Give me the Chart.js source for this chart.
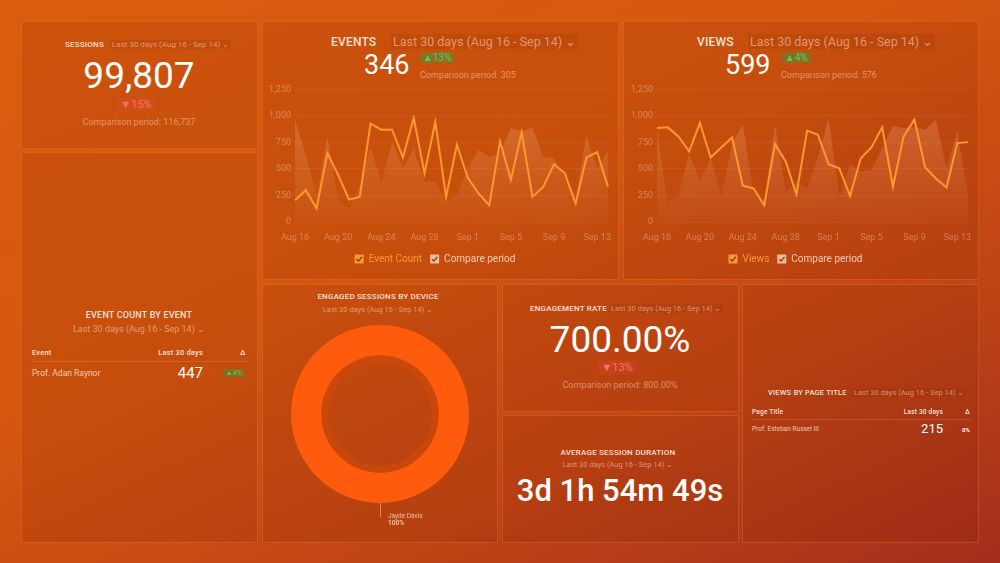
<!DOCTYPE html>
<html>
<head>
<meta charset="utf-8">
<script src="https://cdn.jsdelivr.net/npm/chart.js@4.4.1/dist/chart.umd.min.js"></script>
<style>
body{margin:0;width:1000px;height:563px;overflow:hidden;position:relative;font-family:Roboto,"Noto Sans",sans-serif;color:#fff;
background:linear-gradient(155deg,#dc5c0e 0%,#d6580f 40%,#c24614 70%,#a32e1c 100%);}
.panel{position:absolute;box-sizing:border-box;background:rgba(110,30,0,0.14);border:1px solid rgba(255,150,80,0.25);}
.t{position:absolute;white-space:nowrap;}
.c{transform:translateX(-50%);}
.r{transform:translateX(-100%);}
.ttl{font-weight:500;letter-spacing:0.2px;color:rgba(255,240,228,0.92);}
.dr{color:rgba(255,220,200,0.55);background:rgba(120,35,0,0.12);padding:0 2px;}
.cmp{color:rgba(255,220,200,0.5);}
.red{background:rgba(235,70,70,0.22);color:#ff6f6a;padding:0 3px;}
.grn{background:rgba(40,170,70,0.35);color:#3bd46c;padding:0 3px;}
.box{position:absolute;}
</style>
</head>
<body>

<div class="panel" style="left:21px;top:21px;width:237px;height:128px"></div>
<div class="panel" style="left:21px;top:152px;width:237px;height:391px"></div>
<div class="panel" style="left:262px;top:21px;width:357px;height:259px"></div>
<div class="panel" style="left:623px;top:21px;width:356px;height:259px"></div>
<div class="panel" style="left:262px;top:284px;width:236px;height:259px"></div>
<div class="panel" style="left:502px;top:284px;width:237px;height:128px"></div>
<div class="panel" style="left:502px;top:415px;width:237px;height:128px"></div>
<div class="panel" style="left:742px;top:284px;width:237px;height:259px"></div>

<!-- sessions -->
<div class="t ttl" style="left:65px;top:40px;font-size:8px">SESSIONS</div>
<div class="t dr" style="left:110px;top:40px;font-size:8px">Last 30 days (Aug 16 - Sep 14) ⌄</div>
<div class="t c" style="left:139px;top:54px;font-size:37px">99,807</div>
<div class="t c red" style="left:136px;top:98px;font-size:11px">▼15%</div>
<div class="t c cmp" style="left:139px;top:117px;font-size:9px">Comparison period: 116,737</div>

<!-- events -->
<div class="t ttl" style="left:331px;top:35px;font-size:12px">EVENTS</div>
<div class="t dr" style="left:391px;top:34px;font-size:12.5px">Last 30 days (Aug 16 - Sep 14) ⌄</div>
<div class="t" style="left:364px;top:49px;font-size:27px">346</div>
<div class="t grn" style="left:420px;top:52px;font-size:10px">▲13%</div>
<div class="t cmp" style="left:420px;top:70px;font-size:9px">Comparison period: 305</div>
<div class="box" style="left:262px;top:80px;width:357px;height:194px"><canvas id="eventsChart"></canvas></div>

<!-- views -->
<div class="t ttl" style="left:697px;top:35px;font-size:12px">VIEWS</div>
<div class="t dr" style="left:748px;top:34px;font-size:12.5px">Last 30 days (Aug 16 - Sep 14) ⌄</div>
<div class="t" style="left:725px;top:49px;font-size:27px">599</div>
<div class="t grn" style="left:782px;top:52px;font-size:10px">▲4%</div>
<div class="t cmp" style="left:781px;top:70px;font-size:9px">Comparison period: 576</div>
<div class="box" style="left:623px;top:80px;width:356px;height:194px"><canvas id="viewsChart"></canvas></div>

<!-- event count by event -->
<div class="t c ttl" style="left:139px;top:310px;font-size:9px">EVENT COUNT BY EVENT</div>
<div class="t c dr" style="left:139px;top:324px;font-size:9px;background:none">Last 30 days (Aug 16 - Sep 14) ⌄</div>
<div class="t ttl" style="left:32px;top:348px;font-size:7.5px">Event</div>
<div class="t r ttl" style="left:203px;top:348px;font-size:7.5px">Last 30 days</div>
<div class="t ttl" style="left:240px;top:348px;font-size:7.5px">Δ</div>
<div style="position:absolute;left:31px;top:361px;width:216px;height:1px;background:rgba(255,200,160,0.18)"></div>
<div class="t" style="left:32px;top:368px;font-size:8.5px;color:rgba(255,235,220,0.8)">Prof. Adan Raynor</div>
<div class="t r" style="left:203px;top:364px;font-size:15px">447</div>
<div class="t grn" style="left:223px;top:369px;font-size:7px">▲4%</div>

<!-- engaged sessions by device -->
<div class="t c ttl" style="left:378px;top:292px;font-size:8px">ENGAGED SESSIONS BY DEVICE</div>
<div class="t c dr" style="left:378px;top:305px;font-size:7.5px;background:none">Last 30 days (Aug 16 - Sep 14) ⌄</div>
<div class="box" style="left:291px;top:325px;width:178px;height:210px"><canvas id="deviceChart"></canvas></div>

<!-- engagement rate -->
<div class="t ttl" style="left:530px;top:304px;font-size:8px">ENGAGEMENT RATE</div>
<div class="t dr" style="left:609px;top:304px;font-size:7.5px">Last 30 days (Aug 16 - Sep 14) ⌄</div>
<div class="t c" style="left:620px;top:318px;font-size:37px">700.00%</div>
<div class="t c red" style="left:617px;top:361px;font-size:11px">▼13%</div>
<div class="t c cmp" style="left:620px;top:380px;font-size:9px">Comparison period: 800.00%</div>

<!-- average session duration -->
<div class="t c ttl" style="left:618px;top:448px;font-size:8px">AVERAGE SESSION DURATION</div>
<div class="t c dr" style="left:618px;top:460px;font-size:7.5px;background:none">Last 30 days (Aug 16 - Sep 14) ⌄</div>
<div class="t c" style="left:620px;top:472px;font-size:31px;font-weight:500">3d 1h 54m 49s</div>

<!-- views by page title -->
<div class="t ttl" style="left:768px;top:388px;font-size:7.5px">VIEWS BY PAGE TITLE</div>
<div class="t dr" style="left:852px;top:388px;font-size:7.5px">Last 30 days (Aug 16 - Sep 14) ⌄</div>
<div class="t ttl" style="left:752px;top:408px;font-size:6.5px">Page Title</div>
<div class="t r ttl" style="left:943px;top:408px;font-size:6.5px">Last 30 days</div>
<div class="t ttl" style="left:965px;top:408px;font-size:6.5px">Δ</div>
<div style="position:absolute;left:751px;top:419px;width:220px;height:1px;background:rgba(255,200,160,0.18)"></div>
<div class="t" style="left:752px;top:425px;font-size:6.5px;color:rgba(255,235,220,0.8)">Prof. Esteban Russel III</div>
<div class="t r" style="left:943px;top:421px;font-size:13px">215</div>
<div class="t" style="left:962px;top:426px;font-size:6px;font-weight:700">0%</div>

<script>

/* Data */

const days=["Aug 16","Aug 17","Aug 18","Aug 19","Aug 20","Aug 21","Aug 22","Aug 23","Aug 24","Aug 25",
"Aug 26","Aug 27","Aug 28","Aug 29","Aug 30","Aug 31","Sep 1","Sep 2","Sep 3","Sep 4",
"Sep 5","Sep 6","Sep 7","Sep 8","Sep 9","Sep 10","Sep 11","Sep 12","Sep 13","Sep 14"];

const eventCount=[206,300,127,649,443,212,237,927,870,870,608,981,459,943,237,728,418,269,158,760,396,845,237,332,544,459,174,608,658,332];
const eventCompare=[960,633,253,807,190,127,348,712,370,760,506,690,380,380,190,253,506,680,617,649,886,855,892,617,601,411,253,807,506,680];

const views=[886,892,807,665,934,608,703,797,342,316,158,734,570,260,861,823,544,506,244,601,703,892,332,807,965,516,411,326,744,753];
const viewsCompare=[870,174,253,649,380,601,237,740,925,270,190,918,285,380,316,601,981,237,538,475,491,696,902,886,892,870,965,506,855,253];

const yTicks=[0,250,500,750,1000,1250];

const devices=["Jayde Davis"];
const deviceSessions=[100];

/* Shared */

Chart.defaults.font.family="Roboto";

const faint="rgba(255,225,205,0.36)";

const compareFill=ctx=>{
const a=ctx.chart.chartArea;
if(!a) return "rgba(255,190,150,0.15)";
const g=ctx.chart.ctx.createLinearGradient(0,a.top,0,a.bottom);
g.addColorStop(0,"rgba(255,195,160,0.27)");
g.addColorStop(1,"rgba(255,195,160,0.04)");
return g;
};

const checkMarks={
id:"checkMarks",
afterDraw(chart){
const lg=chart.legend;
if(!lg||!lg.legendHitBoxes) return;
const c=chart.ctx;
lg.legendHitBoxes.forEach(b=>{
const x=b.left, y=b.top+b.height/2-4.5;
c.save();
c.strokeStyle="rgba(120,40,0,0.9)";
c.lineWidth=1.3;
c.beginPath();
c.moveTo(x+2,y+4.8);
c.lineTo(x+3.8,y+6.6);
c.lineTo(x+7.2,y+2.4);
c.stroke();
c.restore();
});
}
};

function lineChart(id,label,values,compare,yWidth){

return new Chart(document.getElementById(id),{

type:"line",

data:{
labels:days,
datasets:[
{
label:label,
data:values,
borderColor:"#fb9830",
borderWidth:2,
pointRadius:0,
tension:0,
fill:false,
order:0
},
{
label:"Compare period",
data:compare,
borderWidth:0,
pointRadius:0,
tension:0,
fill:"origin",
backgroundColor:compareFill,
order:1
}
]
},

options:{
responsive:true,
maintainAspectRatio:false,
animation:false,
layout:{padding:{top:4,right:11,left:0,bottom:0}},
plugins:{
tooltip:{enabled:false},
legend:{
position:"bottom",
labels:{
boxWidth:9,
boxHeight:9,
padding:8,
font:{size:10},
generateLabels:ch=>[
{text:label,fillStyle:"#fb9830",strokeStyle:"#fb9830",lineWidth:0,fontColor:"#fb9830",datasetIndex:0,hidden:false},
{text:"Compare period",fillStyle:"rgba(255,225,210,0.75)",strokeStyle:"rgba(255,225,210,0.75)",lineWidth:0,fontColor:"rgba(255,232,218,0.8)",datasetIndex:1,hidden:false}
]
}
}
},
scales:{
x:{
offset:false,
afterFit:s=>{s.height=24;},
grid:{display:false,drawTicks:false},
border:{display:false},
ticks:{
color:faint,
font:{size:9},
autoSkip:false,
maxRotation:0,
padding:10,
callback:(v,i)=>i%4===0?days[i]:""
}
},
y:{
min:yTicks[0],
max:yTicks[yTicks.length-1],
afterFit:s=>{s.width=yWidth;},
afterBuildTicks:s=>{s.ticks=yTicks.map(v=>({value:v}));},
grid:{color:"rgba(255,220,200,0.08)",drawTicks:false},
border:{display:false},
ticks:{color:faint,font:{size:9},padding:4}
}
}
},

plugins:[checkMarks]

});

}

lineChart("eventsChart","Event Count",eventCount,eventCompare,33);
lineChart("viewsChart","Views",views,viewsCompare,34);

/* Donut */

const donutLabel={
id:"donutLabel",
afterDraw(chart){
const arc=chart.getDatasetMeta(0).data[0];
if(!arc) return;
const c=chart.ctx;
const x=arc.x, y=arc.y+arc.outerRadius;
const total=deviceSessions.reduce((a,b)=>a+b,0);
c.save();
c.strokeStyle="rgba(255,210,180,0.5)";
c.lineWidth=1;
c.beginPath();
c.moveTo(x+0.5,y);
c.lineTo(x+0.5,y+14);
c.stroke();
c.font="6.5px Roboto";
c.fillStyle="rgba(255,230,215,0.75)";
c.textBaseline="middle";
c.fillText(devices[0],x+8,y+13);
c.font="bold 6.5px Roboto";
c.fillText(Math.round(deviceSessions[0]/total*100)+"%",x+8,y+20);
c.restore();
}
};

new Chart(document.getElementById("deviceChart"),{

type:"doughnut",

data:{
labels:devices,
datasets:[
{data:deviceSessions,backgroundColor:"#ff5b0c",borderWidth:0,weight:30},
{data:deviceSessions,backgroundColor:"rgba(205,72,10,0.75)",borderWidth:0,weight:7}
]
},

options:{
responsive:true,
maintainAspectRatio:false,
animation:false,
cutout:"58%",
layout:{padding:{bottom:32}},
plugins:{legend:{display:false},tooltip:{enabled:false}}
},

plugins:[donutLabel]

});

</script>
</body>
</html>
